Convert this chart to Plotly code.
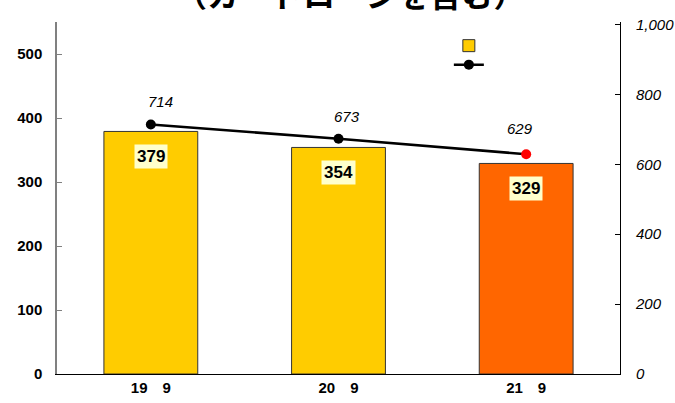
import plotly.graph_objects as go

categories = ["19　9", "20　9", "21　9"]
bar_values = [379, 354, 329]
line_values = [714, 673, 629]
bar_colors = ["#FFCC00", "#FFCC00", "#FF6600"]
marker_colors = ["#000000", "#000000", "#FF0000"]
left_ticks = [0, 100, 200, 300, 400, 500]
right_ticks = [0, 200, 400, 600, 800, 1000]
title_text = "（カードローンを含む）"

fig = go.Figure()
fig.add_trace(go.Bar(
    x=categories, y=bar_values, name=" ",
    marker=dict(color=bar_colors, line=dict(color="#333333", width=1)),
    width=0.5, showlegend=True, hoverinfo="skip",
))
fig.add_trace(go.Scatter(
    x=categories, y=line_values, yaxis="y2", name=" ",
    mode="lines+markers",
    line=dict(color="black", width=2.5),
    marker=dict(color=marker_colors, size=10),
    showlegend=True,
))

for c, v in zip(categories, bar_values):
    fig.add_annotation(
        x=c, y=v, xref="x", yref="y", text=f"<b>{v}</b>", showarrow=False,
        yshift=-25, bgcolor="#FFFFCC",
        font=dict(family="Liberation Sans", size=17, color="black"),
        borderpad=2,
    )

label_xshift = [10, 8, -6]
label_yshift = [23, 22, 26]
for c, v, xs, ys in zip(categories, line_values, label_xshift, label_yshift):
    fig.add_annotation(
        x=c, y=v, xref="x", yref="y2", text=str(v), showarrow=False,
        yshift=ys, xshift=xs,
        font=dict(family="Liberation Sans", size=15, color="black", style="italic"),
    )

fig.add_annotation(
    x=0.52, y=1.083, xref="paper", yref="paper", text=f"<b>{title_text}</b>",
    showarrow=False, yanchor="middle",
    font=dict(family="Noto Sans CJK JP", size=32, color="black"),
)

fig.update_layout(
    width=675, height=403,
    margin=dict(l=57, r=55, t=22, b=29),
    paper_bgcolor="white", plot_bgcolor="white",
    bargap=0.5,
    xaxis=dict(
        showline=True, linecolor="black", linewidth=1, ticks="", automargin=False,
        tickfont=dict(family="Liberation Sans", size=15, color="black", weight="bold"),
        showgrid=False,
    ),
    yaxis=dict(
        range=[0, 550], tickvals=left_ticks, showgrid=False, zeroline=False,
        showline=True, linecolor="#808080", linewidth=1.5, automargin=False,
        ticks="inside", ticklen=5, tickcolor="#808080", ticklabelstandoff=10,
        tickfont=dict(family="Liberation Sans", size=15, color="black", weight="bold"),
    ),
    yaxis2=dict(
        range=[0, 1000 * 550 / 546], tickvals=right_ticks, tickformat=",",
        overlaying="y", side="right", showgrid=False, zeroline=False,
        showline=True, linecolor="black", linewidth=1, automargin=False,
        ticks="inside", ticklen=5, tickcolor="black", ticklabelstandoff=12,
        tickfont=dict(family="Liberation Sans", size=15, color="black", style="italic"),
    ),
    legend=dict(
        x=0.696, y=0.974, xanchor="left", yanchor="top",
        bgcolor="rgba(0,0,0,0)", tracegroupgap=2,
        font=dict(size=12),
    ),
)

fig.write_html("out.html", config={"displayModeBar": False},
               post_script="document.body.style.margin='0px';")
